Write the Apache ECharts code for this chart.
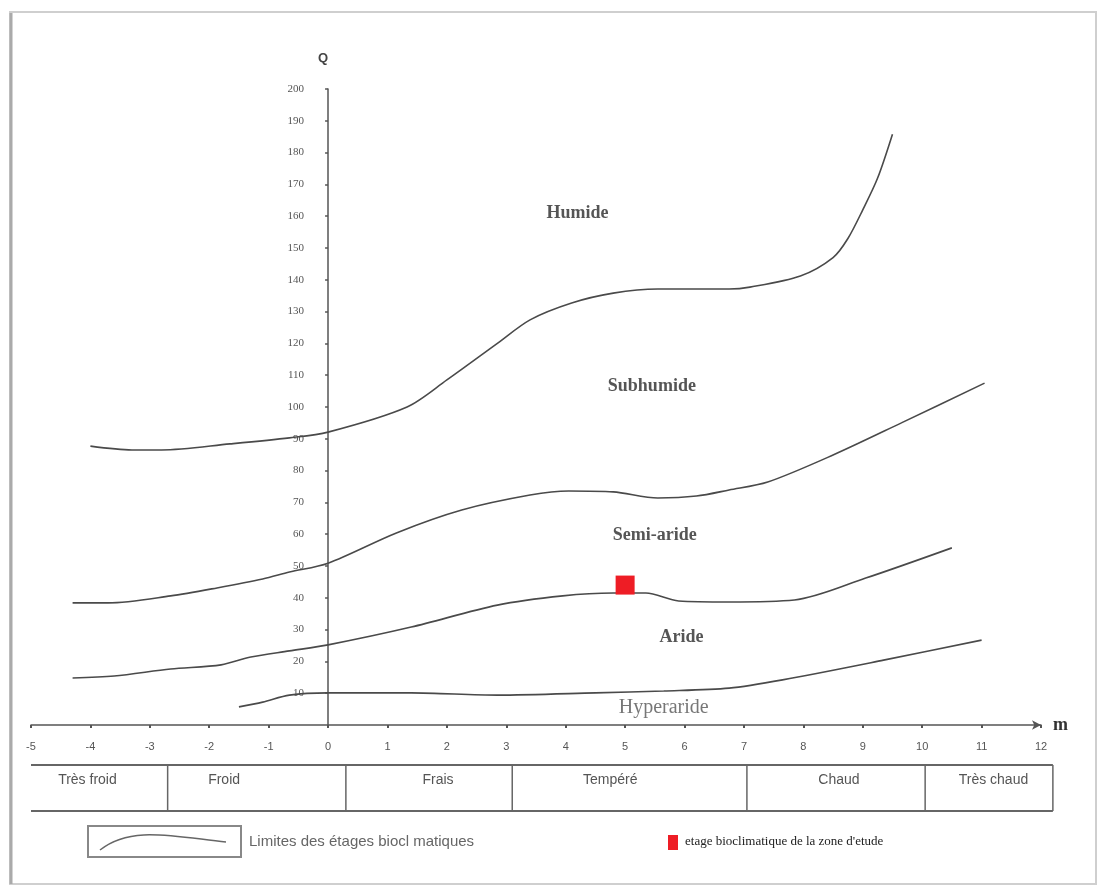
<!DOCTYPE html>
<html>
<head>
<meta charset="utf-8">
<script src="https://cdn.jsdelivr.net/npm/echarts@6/dist/echarts.min.js"></script>
<style>
html, body { margin: 0; padding: 0; background: #fff; }
#chart { width: 1101px; height: 891px; }
</style>
</head>
<body>
<div id="chart"></div>
<script>
// Climagramme d'Emberger : m (°C) en abscisse, Q en ordonnée
const humideM = [-4.0, -3.3, -2.8, -1.65, -0.65, 0, 1.33, 2.0, 2.85, 3.4, 4.1, 4.8, 5.55, 6.75, 7.1, 7.95, 8.5, 8.75, 9.0, 9.25, 9.5];
const humideQ = [87.7, 86.5, 86.5, 88.4, 90.3, 92.1, 100, 108.5, 120, 127.4, 132.7, 135.8, 137.1, 137.1, 137.7, 141.2, 147, 153, 162, 172, 185.8];

const subhumideM = [-4.3, -3.7, -2.65, -1.87, -1.1, -0.65, 0, 1.15, 2.25, 3.4, 4.05, 4.8, 5.55, 6.2, 6.75, 7.4, 8.5, 9.65, 11.05];
const subhumideQ = [38.4, 38.4, 40.6, 43.1, 45.9, 48.1, 50.9, 60.4, 67.6, 72.3, 73.6, 73.3, 71.4, 72.0, 73.9, 76.4, 84.9, 95.0, 107.5];

const semiAridM = [-4.3, -3.6, -2.65, -1.8, -1.3, -0.65, 0, 1.4, 2.85, 3.95, 4.8, 5.35, 5.9, 6.75, 7.85, 9.05, 10.5];
const semiAridQ = [14.8, 15.4, 17.6, 18.9, 21.4, 23.3, 25.2, 30.8, 37.7, 40.6, 41.5, 41.5, 39.0, 38.7, 39.3, 46.2, 55.7];

const aridM = [-1.5, -1.1, -0.65, 0, 1.4, 2.85, 4.5, 5.65, 6.75, 7.65, 9.35, 11.0];
const aridQ = [5.7, 7.2, 9.4, 10.1, 10.1, 9.4, 10.1, 10.7, 11.6, 14.2, 20.4, 26.7];

// zone d'etude
const stationM = 5;
const stationQ = 44;

const zoneNames = ['Humide', 'Subhumide', 'Semi-aride', 'Aride', 'Hyperaride'];
const zoneM = [4.2, 5.45, 5.5, 5.95, 5.65];
const zoneQ = [161, 106.5, 59.5, 27.5, 5.3];

const classNames = ['Très froid', 'Froid', 'Frais', 'Tempéré', 'Chaud', 'Très chaud'];
const classBounds = [-5, -2.7, 0.3, 3.1, 7.05, 10.05, 12.2];
const classLabelM = [-4.05, -1.75, 1.85, 4.75, 8.6, 11.2];

const zip = (ms, qs) => ms.map((m, i) => [m, qs[i]]);
const limits = [
  zip(humideM, humideQ),
  zip(subhumideM, subhumideQ),
  zip(semiAridM, semiAridQ),
  zip(aridM, aridQ)
];

const chart = echarts.init(document.getElementById('chart'));

const lineSeries = limits.map(d => ({
  type: 'line',
  data: d,
  smooth: 0.3,
  showSymbol: false,
  silent: true,
  lineStyle: { color: '#4a4a4a', width: 1.6 }
}));

const zoneData = zoneNames.map((n, i) => {
  const item = { value: [zoneM[i], zoneQ[i]], name: n };
  if (n === 'Hyperaride') {
    item.label = { fontWeight: 'normal', fontSize: 20, color: '#555' };
  }
  return item;
});

// grille : -5..12 sur 1010 px, l'axe Q est place a m = 0
const gridLeft = 31, gridWidth = 1010;
const yAxisShift = gridWidth * 5 / 17;

const option = {
  animation: false,
  backgroundColor: '#fff',
  grid: { left: gridLeft, width: gridWidth, top: 89, bottom: 166, outerBoundsMode: 'none', containLabel: false },
  xAxis: {
    type: 'value',
    min: -5, max: 12, interval: 1,
    name: 'm',
    nameLocation: 'end',
    nameGap: 12,
    nameTextStyle: { fontFamily: 'Liberation Serif', fontWeight: 'bold', fontSize: 18, color: '#333', verticalAlign: 'middle' },
    axisLine: { onZero: true, symbol: ['none', 'arrow'], symbolSize: [7, 9], lineStyle: { color: '#555', width: 1.5 } },
    axisTick: { show: true, length: 3, lineStyle: { color: '#555', width: 2 } },
    axisLabel: { margin: 16, fontFamily: 'Liberation Sans', fontSize: 11, color: '#555' },
    splitLine: { show: false }
  },
  yAxis: {
    type: 'value',
    min: 0, max: 200, interval: 10,
    offset: -yAxisShift,
    name: 'Q',
    nameLocation: 'end',
    nameGap: 24,
    nameTextStyle: { fontFamily: 'Liberation Sans', fontWeight: 'bold', fontSize: 13, color: '#444', align: 'right' },
    axisLine: { onZero: false, lineStyle: { color: '#555', width: 1.5 } },
    axisTick: { show: true, length: 3, lineStyle: { color: '#555', width: 1.5 } },
    axisLabel: { showMinLabel: false, margin: 24, fontFamily: 'Liberation Serif', fontSize: 11, color: '#555' },
    splitLine: { show: false }
  },
  series: lineSeries.concat([
    {
      type: 'scatter',
      data: [[stationM, stationQ]],
      symbol: 'rect',
      symbolSize: 19,
      silent: true,
      itemStyle: { color: '#ee1d25', opacity: 1 },
      z: 5
    },
    {
      type: 'scatter',
      data: zoneData,
      symbolSize: 0,
      silent: true,
      label: {
        show: true,
        position: 'inside',
        formatter: p => p.name,
        fontFamily: 'Liberation Serif',
        fontWeight: 'bold',
        fontSize: 18,
        color: '#2a2a2a'
      }
    }
  ])
};

chart.setOption(option);

// tableau des variantes thermiques + legende
const px = m => chart.convertToPixel({ xAxisIndex: 0 }, m);
const tableTop = 765, tableBottom = 811;
const xL = px(classBounds[0]), xR = px(classBounds[classBounds.length - 1]);
const g = [
  { type: 'rect', shape: { x: 10, y: 12, width: 1086, height: 872 }, style: { fill: 'none', stroke: '#cfcfcf', lineWidth: 2 } },
  { type: 'line', shape: { x1: 11, y1: 13, x2: 11, y2: 884 }, style: { stroke: '#aaa', lineWidth: 3 } },
  { type: 'line', shape: { x1: xL, y1: tableTop, x2: xR, y2: tableTop }, style: { stroke: '#666', lineWidth: 2 } },
  { type: 'line', shape: { x1: xL, y1: tableBottom, x2: xR, y2: tableBottom }, style: { stroke: '#666', lineWidth: 2 } }
];
classBounds.slice(1).forEach(b => {
  const x = px(b);
  g.push({ type: 'line', shape: { x1: x, y1: tableTop, x2: x, y2: tableBottom }, style: { stroke: '#666', lineWidth: 1.5 } });
});
classNames.forEach((n, i) => {
  g.push({
    type: 'text', x: px(classLabelM[i]), y: 780,
    style: { text: n, font: '14px "Liberation Sans"', fill: '#555', align: 'center', verticalAlign: 'middle' }
  });
});
g.push(
  { type: 'rect', shape: { x: 88, y: 826, width: 153, height: 31 }, style: { fill: 'none', stroke: '#888', lineWidth: 2 } },
  { type: 'bezierCurve', shape: { x1: 100, y1: 850, cpx1: 130, cpy1: 826, cpx2: 170, cpy2: 836, x2: 226, y2: 842 }, style: { fill: 'none', stroke: '#666', lineWidth: 1.5 } },
  { type: 'text', x: 249, y: 842, style: { text: 'Limites des étages biocl matiques', font: '15px "Liberation Sans"', fill: '#666', verticalAlign: 'middle' } },
  { type: 'rect', shape: { x: 668, y: 835, width: 10, height: 15 }, style: { fill: '#ee1d25' } },
  { type: 'text', x: 685, y: 842, style: { text: "etage bioclimatique de la zone d'etude", font: '13px "Liberation Serif"', fill: '#222', verticalAlign: 'middle' } }
);
chart.setOption({ graphic: g });
</script>
</body>
</html>
